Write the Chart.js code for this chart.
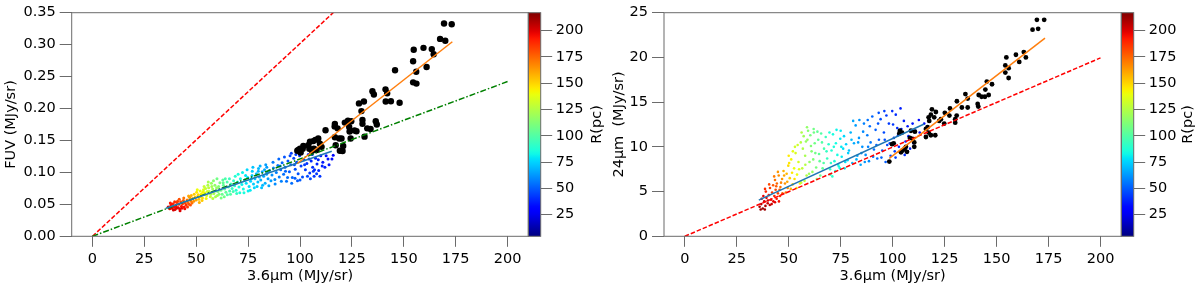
<!DOCTYPE html>
<html>
<head>
<meta charset="utf-8">
<script src="https://cdn.jsdelivr.net/npm/chart.js@4.4.1/dist/chart.umd.min.js"></script>
<style>
  html, body { margin: 0; padding: 0; background: #fff; }
  #wrap { position: relative; width: 1200px; height: 288px; overflow: hidden; }
  canvas { position: absolute; top: 0; }
  #fuvChart { left: 0; }
  #mipsChart { left: 600px; }
</style>
</head>
<body>
<div id="wrap">
  <canvas id="fuvChart" width="612" height="288"></canvas>
  <canvas id="mipsChart" width="600" height="288"></canvas>
</div>
<script>
// ---- tick labels / ranges ----
const xTicks = [0, 25, 50, 75, 100, 125, 150, 175, 200];
const fuvTicks = [0, 0.05, 0.10, 0.15, 0.20, 0.25, 0.30, 0.35];
const mipsTicks = [0, 5, 10, 15, 20, 25];
const rTicks = [25, 50, 75, 100, 125, 150, 175, 200];
const rRange = [4.5, 217];

// ---- left panel: FUV vs 3.6um, [x, y, R(pc)] ----
const fuvCloud = [
  [36.5,0.046,198],[37.2,0.043,200],[37.8,0.048,195],[38.3,0.044,199],[38.9,0.051,190],[39.4,0.046,196],
  [39.8,0.042,200],[40.3,0.049,192],[40.7,0.053,186],[41.2,0.045,197],[41.6,0.050,190],[42.0,0.043,199],
  [42.5,0.054,182],[42.9,0.047,193],[43.4,0.051,186],[43.8,0.056,178],[44.2,0.046,194],[44.7,0.052,182],
  [45.1,0.049,188],[45.6,0.057,172],[46.0,0.053,176],[46.5,0.050,180],[47.0,0.058,166],[47.5,0.055,170],
  [48.0,0.052,173],[38.0,0.050,194],[40.0,0.047,196],[41.0,0.055,184],[43.0,0.044,197],[39.0,0.041,201],
  [37.5,0.052,192],[39.6,0.054,188],[41.8,0.058,180],[44.0,0.060,172],[45.8,0.046,186],[47.2,0.049,180],
  [44.5,0.043,195],[42.2,0.040,200],[40.5,0.044,199],[46.3,0.063,160],
  [46.8,0.061,162],[47.6,0.064,157],[48.3,0.059,160],[49.0,0.066,152],[49.5,0.061,155],[50.2,0.069,146],
  [50.8,0.063,150],[51.3,0.058,154],[51.9,0.071,140],[52.4,0.066,144],[53.0,0.060,148],[53.5,0.073,136],
  [48.8,0.055,165],[50.0,0.057,160],[52.0,0.062,148],[54.0,0.068,138],
  [50.5,0.073,140],[51.5,0.053,158],[52.8,0.056,152],[53.8,0.078,130],[54.8,0.059,142],[55.3,0.070,133],
  [51.0,0.065,150],[53.2,0.069,142],
  [54.5,0.075,130],[55.0,0.064,134],[55.6,0.080,124],[56.2,0.070,126],[56.8,0.062,131],[57.3,0.083,118],
  [57.9,0.074,120],[58.5,0.067,123],[59.0,0.080,116],[59.6,0.071,118],[60.2,0.064,122],[60.8,0.078,113],
  [61.4,0.084,110],[56.0,0.076,128],[58.0,0.059,126],
  [55.8,0.085,122],[57.0,0.066,124],[58.3,0.087,114],[59.3,0.062,122],[60.0,0.090,108],[61.0,0.066,115],
  [62.8,0.088,102],[63.5,0.062,108],[64.0,0.090,98],[66.0,0.090,94],[66.5,0.066,100],[67.8,0.070,96],
  [59.8,0.076,117],[57.5,0.078,121],[63.0,0.084,104],
  [61.9,0.072,108],[62.5,0.066,106],[63.1,0.080,103],[63.7,0.074,102],[64.3,0.069,104],[64.9,0.085,98],
  [65.5,0.077,98],[66.1,0.071,96],[66.7,0.082,94],[67.3,0.075,93],[60.5,0.070,111],[62.0,0.060,110],
  [65.0,0.065,100],[68.0,0.087,92],
  [68.5,0.079,90],[69.2,0.072,88],[69.9,0.085,86],[70.6,0.077,85],[71.3,0.090,83],[72.0,0.081,82],
  [72.7,0.074,84],[73.4,0.088,80],[74.1,0.083,78],[74.8,0.092,77],[75.5,0.078,78],[76.2,0.086,75],
  [76.9,0.095,73],[77.6,0.082,74],[78.3,0.090,72],[79.0,0.098,70],[79.7,0.085,71],[80.4,0.093,69],
  [81.1,0.088,68],[81.8,0.101,66],[82.5,0.094,66],[83.2,0.083,68],[83.9,0.097,64],[84.6,0.090,64],
  [85.3,0.103,62],[71.0,0.068,87],[75.0,0.071,81],[78.0,0.076,76],[82.0,0.080,70],[86.0,0.087,64],
  [80.0,0.106,70],[77.0,0.102,74],[84.0,0.108,64],
  [68.8,0.094,88],[69.5,0.067,92],[70.2,0.097,86],[72.3,0.100,82],[73.0,0.068,86],[74.5,0.104,76],
  [76.0,0.072,80],[77.3,0.108,72],[79.3,0.078,74],[80.8,0.110,68],[81.5,0.076,72],[83.5,0.112,64],
  [85.0,0.079,66],[73.8,0.095,79],[76.6,0.090,76],[79.9,0.102,70],[82.9,0.104,66],[84.3,0.100,64],
  [86.5,0.096,61],[87.2,0.107,58],[87.9,0.089,60],[88.6,0.100,58],[89.3,0.111,55],[90.0,0.093,57],
  [90.7,0.104,54],[91.4,0.115,52],[92.1,0.097,54],[92.8,0.108,51],[93.5,0.086,55],[94.2,0.118,48],
  [94.9,0.101,50],[95.6,0.112,48],[96.3,0.092,52],[97.0,0.122,45],[97.7,0.105,47],[98.4,0.116,45],
  [99.1,0.098,48],[99.8,0.126,42],[100.5,0.110,44],[101.2,0.093,47],[101.9,0.120,41],[102.6,0.104,43],
  [103.3,0.114,41],[104.0,0.128,38],[104.7,0.099,43],[105.4,0.118,39],[106.1,0.108,40],[106.8,0.094,42],
  [107.5,0.122,37],[108.2,0.113,38],[109.0,0.103,39],[110.0,0.126,35],[111.0,0.116,36],[112.0,0.108,37],
  [113.5,0.121,34],[115.4,0.121,33],[96.0,0.083,54],[100.0,0.088,50],[105.0,0.090,46],[108.0,0.098,43],
  [95.2,0.126,46],[97.6,0.091,50],[106.4,0.102,42],
  [87.0,0.116,56],[88.0,0.082,60],[89.8,0.121,52],[91.0,0.086,58],[92.5,0.124,48],[94.0,0.092,54],
  [95.8,0.130,44],[97.3,0.112,46],[98.8,0.087,50],[100.9,0.130,40],[102.2,0.112,43],[103.6,0.094,46],
  [104.4,0.121,40],[105.9,0.128,38],[107.0,0.104,40],[108.8,0.120,38],[109.6,0.094,42],[110.7,0.110,38],
  [112.6,0.126,34],[114.0,0.112,36],[116.0,0.127,32],[98.0,0.128,44],[93.0,0.102,52],[90.4,0.110,54]
];
const fuvCore = [
  [169.4,0.333],[173.1,0.332],[167.5,0.309],[170.0,0.306],[159.5,0.295],[154.8,0.292],[163.5,0.293],
  [164.4,0.285],[154.5,0.274],[161.0,0.265],[145.8,0.260],[156.0,0.2575],[154.5,0.241],[156.1,0.239],
  [134.9,0.227],[135.6,0.222],[141.2,0.230],[142.0,0.224],[143.8,0.2115],[148.0,0.209],[141.3,0.211],
  [130.8,0.211],[128.4,0.208],[129.6,0.196],[132.4,0.169],[130.1,0.182],[130.1,0.176],[136.5,0.180],
  [137.0,0.175],[123.1,0.181],[124.7,0.180],[127.2,0.1645],[123.9,0.164],[118.1,0.169],[116.7,0.172],
  [116.8,0.176],[118.9,0.153],[112.3,0.166],[108.8,0.153],[107.4,0.151],[106.4,0.149],[104.8,0.148],
  [101.6,0.1415],[101.3,0.137],[100.0,0.137],[98.7,0.134],[100.3,0.131],[104.0,0.1425],[104.5,0.137],
  [105.8,0.134],[110.4,0.140],[116.8,0.155],[120.0,0.153],[120.8,0.1415],[119.2,0.134],[120.5,0.1335],
  [117.2,0.1425],[124.4,0.153],[131.1,0.156],[134.0,0.168],[121.6,0.178],[123.7,0.171],[126.3,0.1657],
  [106.7,0.137],[108.0,0.135],[109.6,0.145],[99.2,0.135]
];
const fuvUnity = [[0, 0], [200, 0.6035]];
const fuvGlobalFit = [[0, 0], [200, 0.2422]];
const fuvOuterFit = [[35.4, 0.044], [115.3, 0.133]];
const fuvInnerFit = [[98.7, 0.114], [173.4, 0.3045]];

// ---- right panel: 24um vs 3.6um, [x, y, R(pc)] ----
const mipsCloud = [
  [36.0,3.3,210],[36.8,3.6,207],[37.5,3.1,212],[38.2,3.9,204],[38.8,3.4,209],[39.3,4.3,198],[39.9,3.7,203],
  [40.4,4.6,192],[40.9,3.5,206],[41.5,4.1,196],[42.0,4.9,186],[42.6,3.9,198],[43.1,4.5,190],[43.7,5.2,182],
  [44.2,4.2,192],[44.8,4.8,184],[37.0,4.2,200],[39.0,5.0,190],[41.0,5.4,185],[45.3,3.9,195],
  [36.5,3.0,212],[37.8,4.5,198],[38.5,3.0,211],[40.0,4.0,202],[41.8,3.6,203],[43.4,3.8,198],[44.0,5.6,178],
  [45.8,4.5,186],[38.6,5.3,188],[40.6,5.8,182],
  [42.5,5.7,178],[43.4,6.3,172],[44.3,5.9,175],[45.2,6.8,166],[46.0,5.5,172],[46.8,6.4,164],[47.5,7.3,158],
  [48.2,5.9,165],[49.0,7.0,156],[47.0,4.8,176],[49.5,5.4,166],
  [43.0,6.7,170],[44.8,7.2,164],[46.3,6.0,168],[47.8,6.8,160],[48.6,4.9,172],[45.6,5.2,178],[49.3,6.1,160],
  [49.8,7.9,148],[50.5,6.5,152],[51.2,8.6,142],[51.9,5.8,150],[52.6,7.6,140],[53.3,9.3,134],[54.0,6.9,140],
  [54.7,8.3,134],[55.4,5.9,142],[50.0,9.0,145],[53.0,10.0,132],
  [50.2,8.2,146],[51.0,5.3,158],[52.0,9.5,138],[52.8,6.4,148],[54.3,10.2,132],[55.0,7.5,138],[53.8,5.4,148],
  [51.6,7.1,146],
  [55.8,10.5,126],[56.5,7.6,128],[57.2,11.2,120],[57.9,9.0,122],[58.6,6.8,124],[59.3,11.8,114],[60.0,8.3,116],
  [60.7,10.1,112],[61.4,7.2,118],[62.1,11.6,108],[62.8,9.3,108],[63.5,6.4,114],[64.2,10.8,104],[64.9,8.4,104],
  [65.6,11.5,100],[66.3,7.6,104],[67.0,9.8,98],[56.0,6.0,130],[58.0,8.0,125],[61.0,9.5,113],[59.0,10.8,118],
  [56.8,9.8,124],[57.6,6.2,128],[58.3,10.6,118],[59.8,7.0,120],[60.4,11.3,110],[61.8,8.6,112],[62.5,10.4,108],
  [63.2,7.7,110],[64.6,9.2,104],[65.2,6.8,106],[66.0,10.5,100],[66.8,8.2,100],[62.0,12.0,108],[58.8,12.2,116],
  [56.2,11.6,124],[63.8,11.7,104],
  [67.8,11.1,94],[68.5,8.7,93],[69.2,10.3,90],[69.9,7.5,92],[70.6,9.6,88],[71.3,11.4,85],[72.0,8.4,87],
  [72.7,10.4,84],[73.4,9.1,84],[74.1,7.8,84],[74.8,10.9,80],[75.5,8.9,80],[76.2,9.8,78],[76.9,7.6,80],
  [77.6,10.3,75],[78.3,8.5,76],[71.0,6.7,90],[75.0,11.8,80],
  [68.2,9.5,92],[69.6,11.6,88],[70.3,8.2,90],[71.7,10.0,86],[73.0,11.9,82],[73.8,8.0,86],[75.3,10.0,80],
  [76.6,11.2,76],[77.2,8.3,78],[78.6,9.3,74],[70.0,6.9,92],[72.4,7.3,88],[74.6,7.6,84],
  [79.0,9.6,72],[79.8,11.6,69],[80.6,8.2,71],[81.4,10.4,67],[82.2,12.4,64],[83.0,9.0,67],[83.8,11.0,63],
  [84.6,8.0,66],[85.4,10.0,62],[86.2,12.6,58],[87.0,9.1,61],[87.8,11.3,57],[88.6,8.4,60],[89.4,10.5,56],
  [90.2,13.4,52],[91.0,9.7,54],[91.8,11.9,51],[92.6,8.7,54],[93.4,10.8,50],[94.2,13.1,47],[95.0,9.6,50],
  [95.8,11.6,46],[96.6,8.3,50],[97.4,10.2,46],[98.2,12.6,43],[99.0,9.0,46],[99.8,14.0,40],[100.6,11.0,42],
  [101.4,8.8,44],[102.2,12.1,40],[103.0,10.0,41],[103.8,14.3,37],[104.6,9.5,40],[105.4,12.9,37],
  [106.2,10.6,38],[107.2,12.3,36],[108.4,9.8,38],[109.6,12.6,35],[111.0,11.8,35],[112.6,13.0,33],
  [115.2,12.6,32],[93.3,13.8,48],[84.0,13.0,62],
  [80.2,10.8,70],[81.0,12.9,66],[82.6,8.6,68],[83.4,10.5,64],[85.0,9.3,64],[85.8,11.7,60],[86.6,8.3,62],
  [88.2,10.0,58],[89.0,12.3,54],[90.6,8.9,56],[92.2,10.2,52],[93.0,12.6,49],[94.6,8.8,52],[96.2,10.8,47],
  [97.0,13.5,43],[98.6,10.4,46],[100.2,12.5,42],[101.0,9.5,44],[102.6,11.3,40],[104.2,12.0,38],
  [105.8,9.1,40],[107.6,11.2,37],[110.0,10.4,36],[113.0,11.6,33],[96.0,14.0,44],[101.5,13.6,40],
  [88.0,13.0,55]
];
const mipsCore = [
  [169.4,24.2],[172.9,24.2],[167.3,23.1],[170.0,23.2],[154.7,20.0],[159.3,20.3],[163.1,20.6],[164.1,20.0],
  [160.9,19.5],[154.2,19.1],[155.8,18.8],[154.2,18.3],[155.8,17.7],[145.3,17.3],[147.8,17.0],[144.6,16.4],
  [146.2,15.8],[142.8,15.6],[144.4,15.6],[141.4,15.8],[140.9,14.8],[141.2,14.5],[135.0,15.9],[136.1,15.4],
  [136.1,14.4],[133.3,14.4],[130.9,15.1],[130.8,13.5],[130.1,13.1],[130.1,12.7],[127.6,14.3],[127.3,13.5],
  [125.1,13.8],[124.8,12.6],[123.2,13.1],[122.4,12.9],[120.8,13.9],[120.0,13.3],[118.9,14.2],[118.4,13.6],
  [117.3,13.3],[117.6,12.9],[116.8,12.2],[116.0,11.1],[117.3,11.6],[118.4,11.3],[120.5,11.3],[116.0,12.0],
  [110.7,11.7],[110.4,10.5],[110.4,10.0],[109.6,10.9],[108.3,11.0],[108.8,11.8],[103.5,11.8],[104.5,11.6],
  [106.4,10.0],[106.9,9.45],[105.8,9.8],[104.0,9.4],[104.8,9.6],[100.5,10.4],[99.7,10.3],[98.4,8.36],
  [103.2,11.5]
];
const mipsUnity = [[0, 0], [200, 19.95]];
const mipsOuterFit = [[35.6, 4.05], [115.2, 12.55]];
const mipsInnerFit = [[98.4, 8.72], [173.3, 22.16]];

// ---- styling helpers ----
const FONT = { family: "'DejaVu Sans', sans-serif", size: 14.5 };
const FRAME = '#6b6b6b';

function jet(v) {
  const t = Math.min(1, Math.max(0, (v - rRange[0]) / (rRange[1] - rRange[0])));
  const seg = pts => {
    for (let i = 1; i < pts.length; i++) {
      if (t <= pts[i][0]) {
        const [x0, y0] = pts[i - 1], [x1, y1] = pts[i];
        return y0 + (y1 - y0) * (t - x0) / (x1 - x0);
      }
    }
    return pts[pts.length - 1][1];
  };
  const r = seg([[0, 0], [0.35, 0], [0.66, 1], [0.89, 1], [1, 0.5]]);
  const g = seg([[0, 0], [0.125, 0], [0.375, 1], [0.64, 1], [0.91, 0], [1, 0]]);
  const b = seg([[0, 0.5], [0.11, 1], [0.34, 1], [0.65, 0], [1, 0]]);
  return `rgb(${Math.round(r * 255)},${Math.round(g * 255)},${Math.round(b * 255)})`;
}

// colorbar strip, plot frame and the rotated R(pc) label
const panelFrame = {
  id: 'panelFrame',
  afterDraw(chart, args, opts) {
    const { ctx, chartArea: a, scales } = chart;
    const strip = scales.strip, cb = scales.cb;
    ctx.save();
    const grad = ctx.createLinearGradient(0, cb.getPixelForValue(rRange[0]), 0, cb.getPixelForValue(rRange[1]));
    for (let i = 0; i <= 60; i++) {
      grad.addColorStop(i / 60, jet(rRange[0] + (rRange[1] - rRange[0]) * i / 60));
    }
    ctx.fillStyle = grad;
    ctx.fillRect(strip.left, a.top, strip.right - strip.left, a.bottom - a.top);
    ctx.strokeStyle = FRAME;
    ctx.lineWidth = 1;
    ctx.strokeRect(a.left, a.top, a.right - a.left, a.bottom - a.top);
    ctx.strokeRect(strip.left, a.top, strip.right - strip.left, a.bottom - a.top);
    ctx.translate(opts.labelX, (a.top + a.bottom) / 2);
    ctx.rotate(-Math.PI / 2);
    ctx.font = `${FONT.size}px ${FONT.family}`;
    ctx.fillStyle = '#000';
    ctx.textAlign = 'center';
    ctx.textBaseline = 'middle';
    ctx.fillText('R(pc)', 0, 0);
    ctx.restore();
  }
};

function fitLine(data, color, dash) {
  return {
    data: data.map(p => ({ x: p[0], y: p[1] })),
    showLine: true, borderColor: color, borderWidth: 1.5, borderDash: dash || [],
    pointRadius: 0, fill: false
  };
}

function makePanel(id, cfg) {
  const ctx = document.getElementById(id).getContext('2d');
  const tickGrid = { drawOnChartArea: false, drawTicks: true, color: FRAME, lineWidth: 1 };
  return new Chart(ctx, {
    type: 'scatter',
    data: {
      datasets: [
        ...cfg.lines,
        {
          data: cfg.core.map(p => ({ x: p[0], y: p[1] })),
          pointRadius: cfg.coreRadius, pointBackgroundColor: '#000', pointBorderWidth: 0
        },
        {
          data: cfg.cloud.map(p => ({ x: p[0], y: p[1] })),
          pointRadius: cfg.cloudRadius, pointBorderWidth: 0,
          pointBackgroundColor: cfg.cloud.map(p => jet(p[2]))
        }
      ]
    },
    options: {
      responsive: false,
      animation: false,
      events: [],
      layout: { padding: { top: 8, left: 0, right: 0, bottom: 0 } },
      plugins: { legend: { display: false }, tooltip: { enabled: false }, panelFrame: { labelX: cfg.labelX } },
      scales: {
        x: {
          type: 'linear', min: -10, max: 210,
          afterBuildTicks: s => { s.ticks = xTicks.map(v => ({ value: v })); },
          afterFit: s => { s.height = 51.7; },
          grid: { ...tickGrid, tickLength: 10.5 },
          border: { display: false },
          ticks: { font: FONT, color: '#000', padding: 4, maxRotation: 0, autoSkip: false },
          title: { display: true, text: '3.6μm (MJy/sr)', font: FONT, color: '#000', padding: { top: 0, bottom: 3 } }
        },
        y: {
          type: 'linear', position: 'left', min: 0, max: cfg.yMax,
          afterBuildTicks: s => { s.ticks = cfg.yTicks.map(v => ({ value: v })); },
          afterFit: s => { s.width = cfg.yWidth; },
          grid: { ...tickGrid, tickLength: 12 },
          border: { display: false },
          ticks: { font: FONT, color: '#000', padding: 4, autoSkip: false, callback: cfg.yFormat },
          title: { display: true, text: cfg.yTitle, font: FONT, color: '#000', padding: { top: cfg.yTitlePad, bottom: 0 } }
        },
        strip: {
          type: 'linear', axis: 'y', position: 'right', weight: 1, min: rRange[0], max: rRange[1],
          afterFit: s => { s.width = 12.4; },
          grid: { display: false }, border: { display: false }, ticks: { display: false }
        },
        cb: {
          type: 'linear', axis: 'y', position: 'right', weight: 2, min: rRange[0], max: rRange[1],
          afterBuildTicks: s => { s.ticks = rTicks.map(v => ({ value: v })); },
          afterFit: s => { s.width = cfg.cbWidth; },
          grid: { ...tickGrid, tickLength: 11.5 },
          border: { display: false },
          ticks: { font: FONT, color: '#000', padding: 3.5, autoSkip: false }
        }
      }
    },
    plugins: [panelFrame]
  });
}

makePanel('fuvChart', {
  cloud: fuvCloud, core: fuvCore, cloudRadius: 1.5, coreRadius: 3.2,
  lines: [
    fitLine(fuvInnerFit, '#ff7f0e'),
    fitLine(fuvOuterFit, '#1f77b4'),
    fitLine(fuvGlobalFit, '#008000', [6, 2, 1.5, 2]),
    fitLine(fuvUnity, '#ff0000', [4.5, 2])
  ],
  yMax: 0.35, yTicks: fuvTicks, yFormat: v => v.toFixed(2),
  yTitle: 'FUV (MJy/sr)', yTitlePad: 2.5, yWidth: 71.7, cbWidth: 71.3, labelX: 597
});

makePanel('mipsChart', {
  cloud: mipsCloud, core: mipsCore, cloudRadius: 1.3, coreRadius: 2.4,
  lines: [
    fitLine(mipsInnerFit, '#ff7f0e'),
    fitLine(mipsOuterFit, '#1f77b4'),
    fitLine(mipsUnity, '#ff0000', [4.5, 2])
  ],
  yMax: 25, yTicks: mipsTicks, yFormat: v => String(v),
  yTitle: '24μm  (MJy/sr)', yTitlePad: 10.5, yWidth: 64, cbWidth: 66.3, labelX: 588
});
</script>
</body>
</html>
